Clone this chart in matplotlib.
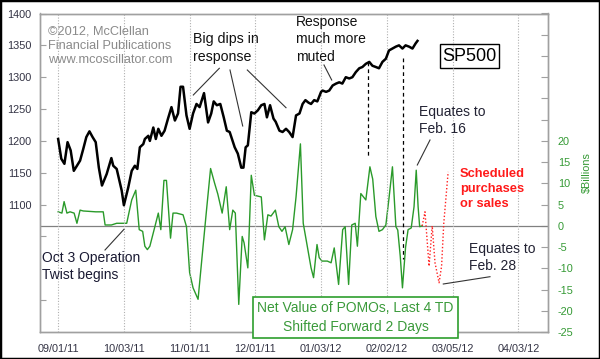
import matplotlib
matplotlib.use("Agg")
import matplotlib.pyplot as plt
from matplotlib.patches import Rectangle

plt.rcParams["font.family"] = ["Liberation Sans", "DejaVu Sans"]

# x axis is in trading days, 0 = 09/01/11, one tick every 21 trading days
TICK_DAYS = [0, 21, 42, 63, 84, 105, 126, 147]
TICK_LABELS = ["09/01/11", "10/03/11", "11/01/11", "12/01/11",
               "01/03/12", "02/02/12", "03/05/12", "04/03/12"]

SP_DAYS = [0, 1, 2, 3, 4, 5, 7, 8, 9, 10, 11, 12, 13, 14, 15.5, 17, 17.6, 18.7,
           20.3, 21, 22.4, 23.5, 24.5, 25.3, 26.1, 27.2, 27.7, 28.8, 29.3, 30.4,
           31.2, 32, 33, 34, 35.1, 36.2, 37.3, 38.3, 39.1, 39.9, 41, 42, 43.1,
           44.2, 45.2, 46.6, 47.9, 48.9, 49.7, 50.7, 51.8, 52.9, 53.9, 54.8,
           56.4, 57.4, 58.5, 59.2, 59.9, 60.6, 61.7, 62.7, 63.8, 64.9, 65.9,
           66.7, 67.7, 68.8, 69.5, 70.7, 71.7, 72.8, 73.8, 74.9, 76, 77.1, 78.1,
           79, 80, 80.8, 81.8, 82.8, 84, 84.5, 85.6, 86.6, 87.7, 88.8, 89.8,
           90.8, 91.9, 93, 94, 95.1, 96.2, 97.2, 98.3, 99.4, 100.4, 101.5,
           102.5, 103.6, 104.7, 105.7, 106.8, 107.9, 108.9, 110, 111, 112.1,
           113.2, 114.2, 114.8]
SP_VALUES = [1203, 1172, 1164, 1198, 1185, 1153, 1169, 1187, 1206, 1215, 1206,
             1198, 1158, 1130, 1148, 1173, 1161, 1156, 1122, 1099, 1127, 1153,
             1161, 1156, 1190, 1195, 1203, 1208, 1200, 1221, 1203, 1219, 1208,
             1216, 1235, 1253, 1232, 1243, 1285, 1285, 1240, 1219, 1243, 1258,
             1253, 1275, 1229, 1243, 1262, 1256, 1258, 1237, 1216, 1214, 1190,
             1180, 1158, 1158, 1190, 1193, 1245, 1243, 1248, 1256, 1258, 1237,
             1256, 1235, 1230, 1216, 1214, 1219, 1214, 1206, 1240, 1243, 1258,
             1264, 1260, 1258, 1264, 1262, 1277, 1279, 1277, 1279, 1287, 1290,
             1292, 1290, 1300, 1298, 1300, 1308, 1314, 1316, 1321, 1324, 1318,
             1316, 1314, 1324, 1329, 1342, 1345, 1348, 1350, 1345, 1350, 1348,
             1345, 1353, 1357]

POMO_DAYS = [0, 1.2, 1.9, 2.8, 3.8, 5.1, 6, 7, 8, 10, 12, 14.4, 15, 17, 18.7,
             21.9, 23.5, 24.8, 25.9, 27, 27.7, 28.5, 29.3, 30.9, 32, 32.8, 33.8,
             34.6, 35.9, 36.7, 37.8, 39.9, 41, 42, 43.1, 44.7, 45.8, 47.4, 48.7,
             50, 51, 52.4, 53.7, 54.8, 55.8, 56.6, 57.7, 58.8, 59.4, 60.6, 61.7,
             62.7, 64.9, 65.9, 67, 68, 69.4, 70.5, 71.5, 72.5, 73.7, 74.9, 76,
             77.4, 78.3, 79.4, 80.8, 81.6, 82.7, 83.4, 84.3, 86, 87.2, 88.2,
             89.6, 90.9, 91.7, 92.8, 93.8, 94.9, 95.6, 96.7, 98.3, 99.6, 100.5,
             101.5, 102.5, 103.6, 104.7, 105.7, 106.8, 107.9, 108.5, 109.3, 110,
             111, 111.8, 112.8, 113.7, 114.4, 115, 115.5, 116.3]
POMO_VALUES = [3.3, 3.0, 5.7, 3.0, 3.3, 3.0, 0.6, 3.7, 3.5, 3.4, 3.3, 3.3, 0.2,
               0.2, 0.6, 0.6, 6.1, 8.4, -0.9, -1.3, -4.8, -5.6, -4.8, -0.2, 3.0,
               -0.9, 10.7, 10.7, -2.9, 3.0, 3.0, 2.6, -0.2, -11, -14.6, -17.3,
               -8.7, 3.7, 13.5, 10, 7.5, 3.0, 9.2, -0.9, 3.7, 3.0, -18.5, -2.5,
               -4.0, -9.9, 11.9, 7.2, 6.8, -3.3, 2.6, 2.3, 3.7, -0.2, -1.3, -0.2,
               -4.4, -0.9, 6.8, 19.3, 0.6, -4.0, -9.9, -12.2, -4.4, -7.5, -8.3,
               -8.3, -8.7, -5.2, -13.8, -0.9, -0.2, -13.8, 0.2, 0.6, -4.8, 7.6,
               6.1, 13.9, 11, 2.2, -1.3, -0.9, 0.2, 6.5, 13.9, -0.2, -1.0, -7.2,
               -14.6, -5, -0.9, -0.5, 4.5, 13.1, 4.5, -0.2, 0]

SCHED_DAYS = [116.3, 117.2, 118.5, 119.5, 120.4, 121.7, 122.5, 123.2, 124.6]
SCHED_VALUES = [0, 3.3, -9.5, 0, -8.7, -13.4, -9.5, 0.6, 12.7]

# dashed markers linking SP500 turns to the POMO spikes
DASH_DAYS = [99.1, 110.2]
DASH_TOPS = [1324, 1330]
DASH_BOTTOMS = [1174, 1014]

W, H = 600, 359


def fp(x, y):
    # image pixel (top-left origin) -> figure fraction
    return x / W, 1 - y / H


fig = plt.figure(figsize=(6, 3.59), dpi=100)
ax = fig.add_axes([40 / W, (H - 332) / H, 508 / W, (332 - 13.5) / H])
ax2 = ax.twinx()
ax.set_zorder(ax2.get_zorder() + 1)
ax.patch.set_visible(False)

# POMO series on the right axis
ax2.axhline(0, color="#808080", lw=0.9)
ax2.plot(POMO_DAYS, POMO_VALUES, color="#2a9a2a", lw=1.0)
ax2.plot(SCHED_DAYS, SCHED_VALUES, color="#ff2020", lw=1.0, ls=(0, (1, 1.5)))
ax2.set_ylim(-25, 50)
ax2.set_yticks(range(-25, 51, 5))
ax2.set_yticklabels([str(v) if v <= 20 else "" for v in range(-25, 51, 5)])

# SP500 on the left axis
ax.plot(SP_DAYS, SP_VALUES, color="black", lw=1.8)
for d, top, bot in zip(DASH_DAYS, DASH_TOPS, DASH_BOTTOMS):
    ax.plot([d, d], [top, bot], color="black", lw=0.9, ls=(0, (3, 2.5)))
ax.set_ylim(900, 1400)
left_ticks = [950, 1050, 1100, 1150, 1200, 1250, 1300, 1350, 1400]
ax.set_yticks(left_ticks)
ax.set_yticklabels([str(v) if v >= 1100 else "" for v in left_ticks])

ax.set_xlim(-5.8, 156.5)
ax.set_xticks(TICK_DAYS)
ax.set_xticklabels(TICK_LABELS)
for d in TICK_DAYS:
    ax.axvline(d, color="#b0b0b0", lw=0.8, ls=(0, (1, 1.5)), zorder=0)

for a in (ax, ax2):
    for s in a.spines.values():
        s.set_color("#a0a0a0")
        s.set_linewidth(1.0)
ax.tick_params(axis="y", direction="in", length=4, color="#a0a0a0",
               labelsize=7.8, labelcolor="#333344", pad=6)
ax.tick_params(axis="x", length=0, labelsize=7.8, labelcolor="#333344", pad=9)
ax2.tick_params(axis="y", direction="in", length=5, color="#a0a0a0",
                labelsize=7.8, labelcolor="#339933", pad=7)

fig.text(*fp(587, 173), "$Billions", rotation=90, color="#339933",
         fontsize=7.8, ha="center", va="center")

# annotations
txt = dict(fontsize=10, ha="left", va="top", linespacing=1.3)
fig.text(*fp(48, 25), "©2012, McClellan\nFinancial Publications\nwww.mcoscillator.com",
         color="#8a8a8a", fontsize=9.2, ha="left", va="top", linespacing=1.3)
fig.text(*fp(193, 32), "Big dips in\nresponse", color="#111111",
         fontsize=10.2, ha="left", va="top", linespacing=1.4)
fig.text(*fp(296, 15), "Response\nmuch more\nmuted", color="#111111", **txt)
fig.text(*fp(419, 105), "Equates to\nFeb. 16", color="#222233", **txt)
fig.text(*fp(469, 242), "Equates to\nFeb. 28", color="#222233", **txt)
fig.text(*fp(42, 251), "Oct 3 Operation\nTwist begins", color="#1a1a33", **txt)
fig.text(*fp(460, 168), "Scheduled\npurchases\nor sales", color="#ff1a1a",
         fontsize=9.3, fontweight="bold", ha="left", va="top", linespacing=1.35)

fig.text(*fp(469.5, 56.5), "SP500", fontsize=13, ha="center", va="center",
         color="black")
x0, y0 = fp(440, 68)
fig.add_artist(Rectangle((x0, y0), 59 / W, 24 / H, transform=fig.transFigure,
                         fill=False, edgecolor="black", lw=1.0))

x0, y0 = fp(252.7, 337.5)
fig.add_artist(Rectangle((x0, y0), 205.6 / W, 40.5 / H, transform=fig.transFigure,
                         facecolor="white", edgecolor="#2e9e2e", lw=1.2,
                         zorder=5))
fig.text(*fp(355.5, 317.5), "Net Value of POMOs, Last 4 TD\nShifted Forward 2 Days",
         color="#3a9a3a", fontsize=10, ha="center", va="center",
         linespacing=1.4, zorder=6)

leaders = [
    ((219.3, 68.3), (193.3, 95)),
    ((230, 70), (242.7, 126)),
    ((247.3, 70), (286, 107.7)),
    ((324, 65), (331.7, 80)),
    ((430, 140), (417.3, 165)),
    ((443.3, 284), (490, 276.7)),
    ((105, 250), (124, 229.3)),
]
for (xa, ya), (xb, yb) in leaders:
    fig.add_artist(plt.Line2D([xa / W, xb / W], [1 - ya / H, 1 - yb / H],
                              transform=fig.transFigure, color="#333333", lw=0.8))

fig.add_artist(Rectangle((0, 0), 1, 1, transform=fig.transFigure, fill=False,
                         edgecolor="black", lw=2.5))

fig.savefig("out.png", dpi=100)
